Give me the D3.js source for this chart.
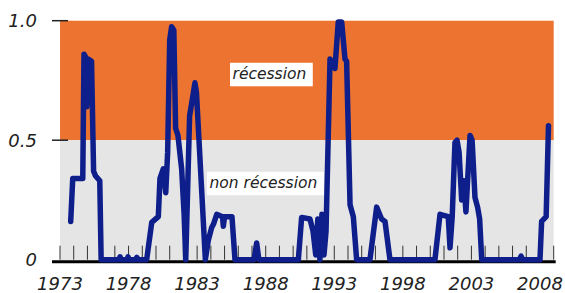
<!DOCTYPE html>
<meta charset="utf-8">
<style>
body { margin: 0; background: #fff; }
svg text { font-family: "DejaVu Sans", sans-serif; font-style: italic; fill: #222; }
</style>
<svg id="plot" width="565" height="293"></svg>
<script src="https://d3js.org/d3.v7.min.js"></script>
<script>

// dates (decimal years) and recession probabilities
var years = [
  1973.78, 1973.93, 1974.66, 1974.75, 1974.85, 1974.95, 1975.05, 1975.30, 1975.45, 1975.60, 1975.90, 1976.00,
  1977.30, 1977.38, 1977.46, 1977.90, 1977.96, 1978.05, 1978.50, 1978.60, 1978.70, 1979.32,
  1979.69, 1980.17, 1980.29, 1980.53, 1980.71, 1980.85, 1981.00, 1981.14, 1981.30, 1981.43, 1981.60, 1981.87, 1982.05, 1982.17,
  1982.45, 1982.84, 1982.95, 1983.60,
  1983.81, 1984.06, 1984.20, 1984.43, 1984.85, 1984.91, 1985.00, 1985.54, 1985.76,
  1987.15, 1987.34, 1987.50,
  1990.38, 1990.62, 1991.23, 1991.45, 1991.65, 1991.80, 1991.95, 1992.10, 1992.25, 1992.40,
  1992.69, 1993.05, 1993.29, 1993.54, 1993.78, 1993.90, 1994.15, 1994.39, 1994.63,
  1995.60, 1996.09, 1996.45, 1996.70, 1997.06,
  2000.34, 2000.71, 2001.31, 2001.44, 2001.60, 2001.80, 2001.95, 2002.10, 2002.29, 2002.45, 2002.60,
  2002.90, 2003.05, 2003.26, 2003.45, 2003.60, 2003.75,
  2006.50, 2006.62, 2006.75, 2008.00, 2008.12, 2008.45, 2008.62
];
var probs = [
  0.16, 0.34, 0.34, 0.86, 0.85, 0.64, 0.84, 0.83, 0.37, 0.35, 0.33, 0.00,
  0.00, 0.012, 0.00, 0.00, 0.012, 0.00, 0.00, 0.01, 0.00, 0.00,
  0.156, 0.18, 0.34, 0.38, 0.28, 0.45, 0.92, 0.975, 0.96, 0.55, 0.52, 0.38, 0.19, 0.00,
  0.60, 0.74, 0.70, 0.00,
  0.08, 0.135, 0.15, 0.19, 0.18, 0.14, 0.18, 0.18, 0.00,
  0.00, 0.07, 0.00,
  0.00, 0.177, 0.17, 0.12, 0.02, 0.17, 0.00, 0.19, 0.02, 0.12,
  0.84, 0.80, 0.995, 0.995, 0.84, 0.83, 0.23, 0.18, 0.00,
  0.00, 0.22, 0.17, 0.16, 0.00,
  0.00, 0.19, 0.18, 0.05, 0.18, 0.49, 0.50, 0.45, 0.25, 0.33, 0.20,
  0.52, 0.50, 0.26, 0.22, 0.17, 0.00,
  0.00, 0.015, 0.00, 0.00, 0.16, 0.18, 0.56
];

var yTicks = [0, 0.5, 1];
var yTickLabels = ["0", "0.5", "1.0"];
var xLabelYears = [1973, 1978, 1983, 1988, 1993, 1998, 2003, 2008];

var zones = [
  {from: 0.5, to: 1, color: "#ed7430"},
  {from: 0, to: 0.5, color: "#e5e5e5"}
];
var notes = [
  {text: "récession", year: 1985.40, value: 0.824},
  {text: "non récession", year: 1983.72, value: 0.368}
];

var svg = d3.select("svg");

var x = d3.scaleLinear().domain([1973, 2009]).range([60, 553.7]);
var y = d3.scaleLinear().domain([0, 1]).range([259.7, 20.7]);

var data = years.map(function(d, i) { return {year: d, p: probs[i]}; });

// background bands
svg.selectAll(".zone").data(zones).enter().append("rect")
    .attr("class", "zone")
    .attr("x", x(1973))
    .attr("width", x(2009) - x(1973))
    .attr("y", function(d) { return y(d.to); })
    .attr("height", function(d) { return y(d.from) - y(d.to) + (d.from === 0 ? 2 : 0); })
    .attr("fill", function(d) { return d.color; });

// yearly ticks
svg.selectAll(".yt").data(d3.range(1973, 2010)).enter().append("line")
    .attr("x1", function(d) { return x(d); })
    .attr("x2", function(d) { return x(d); })
    .attr("y1", y(0) - 14)
    .attr("y2", y(0))
    .attr("stroke", "#333")
    .attr("stroke-width", 1);

// base axis
svg.append("line")
    .attr("x1", 52).attr("x2", x(2009) + 2)
    .attr("y1", y(0) + 2).attr("y2", y(0) + 2)
    .attr("stroke", "#000").attr("stroke-width", 3);

// y ticks + labels
svg.selectAll(".ytick").data(yTicks.filter(function(d) { return d > 0; })).enter().append("line")
    .attr("x1", 52).attr("x2", 68)
    .attr("y1", function(d) { return y(d); })
    .attr("y2", function(d) { return y(d); })
    .attr("stroke", "#222").attr("stroke-width", 1.5);

svg.selectAll(".ylab").data(yTicks).enter().append("text")
    .attr("x", 37)
    .attr("y", function(d) { return y(d); })
    .attr("dy", "0.35em")
    .attr("text-anchor", "end")
    .style("font-size", "18px")
    .text(function(d, i) { return yTickLabels[i]; });

svg.selectAll(".xlab").data(xLabelYears).enter().append("text")
    .attr("x", function(d) { return x(d); })
    .attr("y", 290)
    .attr("text-anchor", "middle")
    .style("font-size", "18px")
    .text(function(d) { return d; });

// labels in white boxes
notes.forEach(function(n) {
  var g = svg.append("g");
  var t = g.append("text")
      .attr("x", x(n.year) + 2.5)
      .attr("y", y(n.value) + 16)
      .style("font-size", "15.5px")
      .text(n.text);
  var bb = t.node().getBBox();
  g.insert("rect", "text")
      .attr("x", x(n.year))
      .attr("y", y(n.value))
      .attr("width", bb.width + 9)
      .attr("height", 23.5)
      .attr("fill", "#fff");
});

// probability line
var line = d3.line()
    .x(function(d) { return x(d.year); })
    .y(function(d) { return y(d.p); });

svg.append("path")
    .datum(data)
    .attr("d", line)
    .attr("fill", "none")
    .attr("stroke", "#0e1f8c")
    .attr("stroke-width", 5.5)
    .attr("stroke-linejoin", "round")
    .attr("stroke-linecap", "round");

</script>
